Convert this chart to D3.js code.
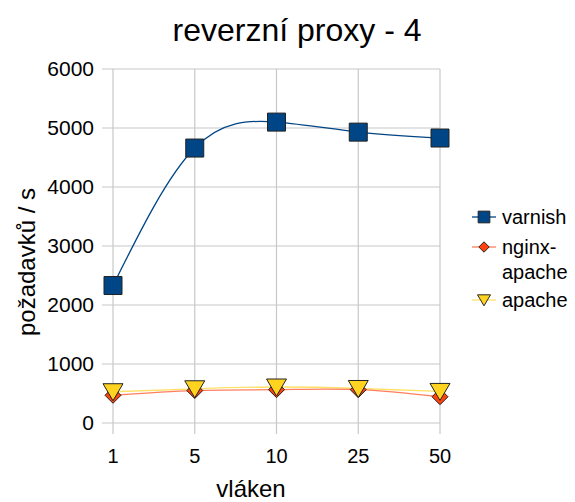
<!DOCTYPE html>
<html>
<head>
<meta charset="utf-8">
<script src="https://cdn.jsdelivr.net/npm/d3@7"></script>
<style>
  body { margin: 0; background: #fff; }
  text { font-family: "Liberation Sans", Arial, sans-serif; fill: #000; }
</style>
</head>
<body>
<div id="chart"></div>
<script>
var categories = ["1", "5", "10", "25", "50"];
var varnish = [2330, 4660, 5100, 4930, 4830];
var nginxApache = [470, 550, 565, 565, 445];
var apache = [530, 580, 610, 585, 535];
var yTicks = [0, 1000, 2000, 3000, 4000, 5000, 6000];

var series = [
  {name: ["varnish"], values: varnish, color: "#004586", line: "#004586", shape: "square"},
  {name: ["nginx-", "apache"], values: nginxApache, color: "#ff420e", line: "#ff7f5f", shape: "diamond"},
  {name: ["apache"], values: apache, color: "#ffd320", line: "#ffe066", shape: "triangle"}
];

var svg = d3.select("#chart").append("svg")
  .attr("width", 575)
  .attr("height", 502);

var x = d3.scalePoint()
  .domain(categories)
  .range([113, 440])
  .padding(0);

var y = d3.scaleLinear()
  .domain([0, 6000])
  .range([423, 69]);

// grid
svg.append("g")
  .selectAll("line")
  .data(yTicks)
  .enter().append("line")
    .attr("x1", 102).attr("x2", 440)
    .attr("y1", function (d) { return y(d); })
    .attr("y2", function (d) { return y(d); })
    .attr("stroke", "#c8c8c8")
    .attr("stroke-width", 1.2);

svg.append("g")
  .selectAll("line")
  .data(categories)
  .enter().append("line")
    .attr("x1", function (d) { return x(d); })
    .attr("x2", function (d) { return x(d); })
    .attr("y1", 69).attr("y2", 434)
    .attr("stroke", "#c8c8c8")
    .attr("stroke-width", 1.2);

// tick labels
svg.append("g")
  .selectAll("text")
  .data(yTicks)
  .enter().append("text")
    .attr("x", 94)
    .attr("y", function (d) { return y(d) + 7; })
    .attr("text-anchor", "end")
    .style("font-size", "21px")
    .text(function (d) { return d; });

svg.append("g")
  .selectAll("text")
  .data(categories)
  .enter().append("text")
    .attr("x", function (d) { return x(d); })
    .attr("y", 463)
    .attr("text-anchor", "middle")
    .style("font-size", "20px")
    .text(function (d) { return d; });

// titles
svg.append("text")
  .attr("x", 297).attr("y", 41)
  .attr("text-anchor", "middle")
  .style("font-size", "32px")
  .text("reverzní proxy - 4");

svg.append("text")
  .attr("x", 251).attr("y", 497)
  .attr("text-anchor", "middle")
  .style("font-size", "24px")
  .text("vláken");

svg.append("text")
  .attr("transform", "translate(35,262) rotate(-90)")
  .attr("text-anchor", "middle")
  .style("font-size", "24px")
  .text("požadavků / s");

function markerPath(shape) {
  if (shape === "square") return "M-9,-9H9V9H-9Z";
  if (shape === "diamond") return "M0,-8L8,0L0,8L-8,0Z";
  return "M-10,-8H10L0,9Z";
}

var line = d3.line()
  .x(function (d, i) { return x(categories[i]); })
  .y(function (d) { return y(d); })
  .curve(d3.curveNatural);

series.slice().reverse().forEach(function (s) {
  svg.append("path")
    .datum(s.values)
    .attr("d", line)
    .attr("fill", "none")
    .attr("stroke", s.line)
    .attr("stroke-width", 1.3);
});

series.forEach(function (s) {
  svg.append("g")
    .selectAll("path")
    .data(s.values)
    .enter().append("path")
      .attr("transform", function (d, i) { return "translate(" + x(categories[i]) + "," + y(d) + ")"; })
      .attr("d", markerPath(s.shape))
      .attr("fill", s.color)
      .attr("stroke", "#222")
      .attr("stroke-width", 1);
});

// legend
var legendY = [217, 247, 300];
series.forEach(function (s, i) {
  var g = svg.append("g").attr("transform", "translate(484," + legendY[i] + ")");
  g.append("line")
    .attr("x1", -12).attr("x2", 12)
    .attr("stroke", s.line).attr("stroke-width", 1.3);
  g.append("path")
    .attr("d", markerPath(s.shape))
    .attr("transform", "scale(0.65)")
    .attr("fill", s.color)
    .attr("stroke", "#222")
    .attr("stroke-width", 1.5);
  s.name.forEach(function (t, j) {
    g.append("text")
      .attr("x", 18).attr("y", 7 + j * 25)
      .style("font-size", "20px")
      .text(t);
  });
});
</script>
</body>
</html>
